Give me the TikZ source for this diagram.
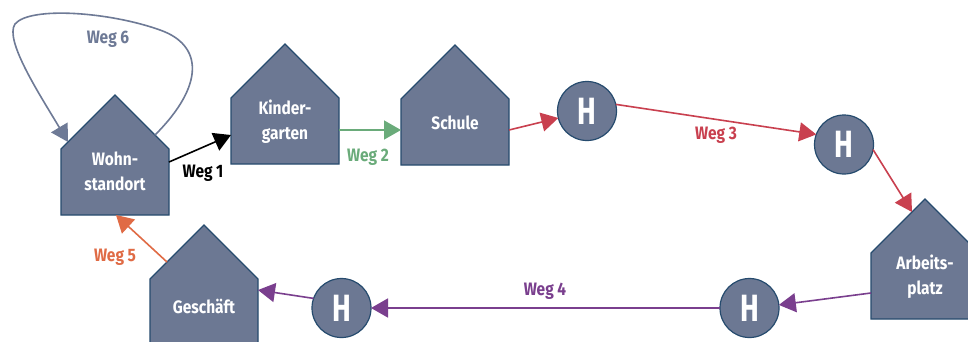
\documentclass[tikz,border=0pt]{standalone}
\usepackage{fontspec}
\newfontfamily\wfont{Fira Sans}[FakeStretch=0.86]
\newfontfamily\hfontfam{Fira Sans}[FakeStretch=0.74]
\usetikzlibrary{arrows.meta,calc}
\definecolor{fillc}{HTML}{6C7893}
\definecolor{bordc}{HTML}{264B6E}
\definecolor{wsix}{HTML}{6E7A96}
\definecolor{wgreen}{HTML}{6AAB7A}
\definecolor{wred}{HTML}{C9404F}
\definecolor{wpurple}{HTML}{7A3F8E}
\definecolor{worange}{HTML}{E06B45}
\tikzset{
  house/.style={minimum width=108pt, minimum height=120pt, inner sep=0pt, outer sep=0pt},
  housefill/.style={fill=fillc, draw=bordc, line width=1.2pt, line join=miter},
  housetext/.style={text=white, font=\wfont\bfseries\fontsize{18}{25}\selectfont, align=center, inner sep=0pt},
  stop/.style={circle, draw=bordc, fill=fillc, line width=1.2pt, minimum size=59pt, inner sep=0pt, outer sep=0pt,
     text=white, font=\hfontfam\bfseries\fontsize{38}{40}\selectfont},
  conn/.style={line width=1.6pt, -{Triangle[length=17pt,width=19pt]}},
  weglabel/.style={font=\wfont\bfseries\fontsize{18}{20}\selectfont, inner sep=0pt},
}
\newcommand\drawhouse[1]{\draw[housefill] (#1.south west) -- ([yshift=-54pt]#1.north west) -- (#1.north) -- ([yshift=-54pt]#1.north east) -- (#1.south east) -- cycle;}
\begin{document}
\begin{tikzpicture}[x=1pt,y=-1pt]
\clip (0,0) rectangle (968,341);
\fill[white] (0,0) rectangle (968,341);

% houses
\node[house] (ws) at (115,155) {};
\node[house] (kg) at (285,104) {};
\node[house] (sch) at (455,105) {};
\node[house] (ap) at (925,259) {};
\node[house] (gs) at (204,285) {};
\drawhouse{ws}
\drawhouse{kg}
\drawhouse{sch}
\drawhouse{ap}
\drawhouse{gs}
\node[housetext] (ws-t) at ($(ws)+(0,16)$) {Wohn-\\standort};
\node[housetext] (kg-t) at ($(kg)+(0,17.5)$) {Kinder-\\garten};
\node[housetext] (sch-t) at ($(sch)+(0,18)$) {Schule};
\node[housetext] (ap-t) at ($(ap)+(0,17.5)$) {Arbeits-\\platz};
\node[housetext] (gs-t) at ($(gs)+(0,21)$) {Geschäft};

% stops
\node[stop] (h1) at (587,111) {H};
\node[stop] (h2) at (844,144.5) {H};
\node[stop] (h3) at (749.5,308) {H};
\node[stop] (h4) at (341.5,308) {H};

% connection points on roofs
\coordinate (ws-r) at ($(ws.north)+(40,40)$);
\coordinate (ws-l) at ($(ws.north)+(-47,47)$);
\coordinate (ap-r) at ($(ap.north)+(-13,13)$);
\coordinate (gs-r) at ($(gs.north)+(-37,37)$);

% Weg 6 loop
\draw[conn, draw=wsix] (ws-r) .. controls (205,85) and (203,45) .. (160,30)
   .. controls (110,12) and (30,6) .. (15,24)
   .. controls (4,40) and (40,95) .. (ws-l);
% Weg 1
\draw[conn, draw=black] ([yshift=-7pt]ws.east) -- ([yshift=-31pt]kg.west);
% Weg 2
\draw[conn, draw=wgreen] ([yshift=-26pt]kg.east) -- ([yshift=-25pt]sch.west);
% Weg 3
\draw[conn, draw=wred] ([yshift=-25pt]sch.east) -- (h1);
\draw[conn, draw=wred] (h1.13) -- (h2.160);
\draw[conn, draw=wred] (h2.-10) -- (ap-r);
% Weg 4
\draw[conn, draw=wpurple] ([yshift=-34pt]ap.west) -- (h3.6);
\draw[conn, draw=wpurple] (h3) -- (h4);
\draw[conn, draw=wpurple] (h4.161) -- ([yshift=-5pt]gs.east);
% Weg 5
\draw[conn, draw=worange] (gs-r) -- ([xshift=1pt]ws.south);

% labels
\node[weglabel, text=wsix] (l6) at (108,39) {Weg 6};
\node[weglabel, text=black] (l1) at (203,173) {Weg 1};
\node[weglabel, text=wgreen] (l2) at (368,157) {Weg 2};
\node[weglabel, text=wred] (l3) at (716,135) {Weg 3};
\node[weglabel, text=wpurple] (l4) at (545,291) {Weg 4};
\node[weglabel, text=worange] (l5) at (115,257) {Weg 5};
\end{tikzpicture}
\end{document}
